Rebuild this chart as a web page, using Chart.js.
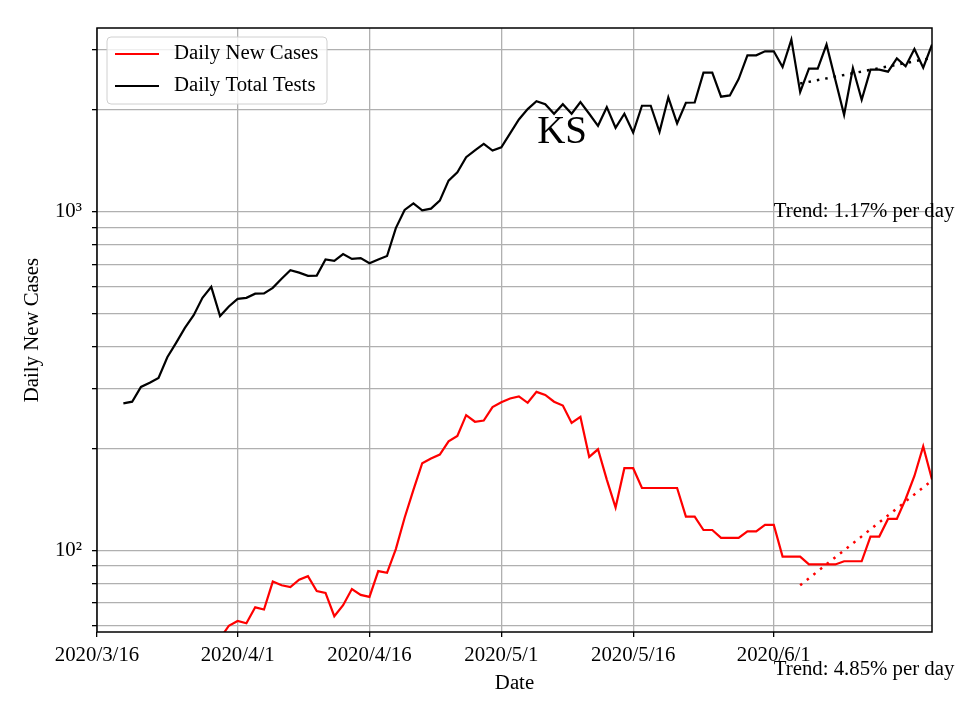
<!DOCTYPE html>
<html>
<head>
<meta charset="utf-8">
<script src="https://cdn.jsdelivr.net/npm/chart.js@4.4.1/dist/chart.umd.min.js"></script>
<style>
  html, body { margin: 0; background: #fff; }
  #wrap { width: 960px; height: 720px; }
</style>
</head>
<body>
<div id="wrap"><canvas id="chart" width="960" height="720"></canvas></div>
<script>
const FONT = '"Liberation Serif", "Times New Roman", serif';

// x is days since 2020/3/16
const X_TICKS = [0, 16, 31, 46, 61, 77];
const X_TICK_LABELS = ['2020/3/16', '2020/4/1', '2020/4/16', '2020/5/1', '2020/5/16', '2020/6/1'];
const Y_TICKS = [60, 70, 80, 90, 100, 200, 300, 400, 500, 600, 700, 800, 900, 1000, 2000, 3000];
const Y_TICK_LABELS = { 100: '10²', 1000: '10³' };

const TESTS_START = 3;
const TESTS = [
  272, 275, 304, 313, 323, 372, 410, 454, 495, 557,
  600, 492, 525, 553, 557, 573, 574, 596, 634, 672,
  661, 647, 648, 723, 716, 750, 726, 730, 705, 723,
  740, 895, 1012, 1058, 1009, 1021, 1078, 1235, 1307, 1448,
  1518, 1586, 1515, 1550, 1702, 1872, 2008, 2120, 2077, 1946,
  2077, 1946, 2106, 1946, 1793, 2035, 1769, 1946, 1713, 2055,
  2055, 1721, 2175, 1822, 2097, 2100, 2573, 2573, 2185, 2204,
  2463, 2894, 2894, 2974, 2974, 2673, 3221, 2254, 2644, 2644,
  3113, 2453, 1932, 2655, 2140, 2626, 2626, 2590, 2836, 2686,
  3021, 2661, 3113,
];

const CASES_START = 14;
const CASES = [
  55, 60, 62, 61, 68, 67, 81, 79, 78, 82,
  84, 76, 75, 64, 69, 77, 74, 73, 87, 86,
  101, 125, 151, 181, 187, 192, 210, 218, 251, 240,
  242, 265, 274, 281, 285, 273, 294, 288, 275, 268,
  238, 248, 189, 199, 162, 134, 175, 175, 153, 153,
  153, 153, 153, 126, 126, 115, 115, 109, 109, 109,
  114, 114, 119, 119, 96, 96, 96, 91, 91, 91,
  91, 93, 93, 93, 110, 110, 124, 124, 142, 166,
  203, 162,
];

// exponential fits over the last 15 days
const TREND_DAYS = [80, 95];
const TESTS_TREND = [2390, 2845];
const CASES_TREND = [79, 161];
const TREND_LABELS = [
  { text: 'Trend: 1.17% per day', day: 77, value: 1000 },
  { text: 'Trend: 4.85% per day', day: 77, value: 44.5 },
];

const TITLE = 'KS';

const toPoints = (start, vals) => vals.map((v, i) => ({ x: start + i, y: v }));
const trendPoints = vals => vals.map((v, i) => ({ x: TREND_DAYS[i], y: v }));

const decor = {
  id: 'decor',
  afterDatasetsDraw(chart) {
    const { ctx, chartArea: a, scales: { x, y } } = chart;
    ctx.save();

    // frame
    ctx.strokeStyle = '#000';
    ctx.lineWidth = 1.5;
    ctx.strokeRect(a.left, a.top, a.right - a.left, a.bottom - a.top);

    ctx.fillStyle = '#000';

    // title inside plot
    ctx.font = `39px ${FONT}`;
    ctx.textAlign = 'center';
    ctx.textBaseline = 'alphabetic';
    ctx.fillText(TITLE, a.left + (a.right - a.left) * 0.557, a.top + (a.bottom - a.top) * 0.19);

    // trend notes
    ctx.font = `20.8px ${FONT}`;
    ctx.textAlign = 'left';
    ctx.textBaseline = 'middle';
    for (const t of TREND_LABELS) {
      ctx.fillText(t.text, x.getPixelForValue(t.day), y.getPixelForValue(t.value));
    }

    // axis titles
    ctx.textAlign = 'center';
    ctx.fillText('Date', (a.left + a.right) / 2, 684);
    ctx.save();
    ctx.translate(33, (a.top + a.bottom) / 2);
    ctx.rotate(-Math.PI / 2);
    ctx.fillText('Daily New Cases', 0, 0);
    ctx.restore();

    // legend
    const bx = a.left + 10, by = a.top + 9, bw = 220, bh = 67;
    ctx.beginPath();
    ctx.roundRect(bx, by, bw, bh, 4);
    ctx.fillStyle = 'rgba(255,255,255,0.8)';
    ctx.fill();
    ctx.strokeStyle = '#d0d0d0';
    ctx.lineWidth = 1;
    ctx.stroke();
    chart.data.datasets.slice(0, 2).forEach((ds, i) => {
      const ly = by + 17 + i * 32;
      ctx.beginPath();
      ctx.moveTo(bx + 8, ly);
      ctx.lineTo(bx + 52, ly);
      ctx.strokeStyle = ds.borderColor;
      ctx.lineWidth = 2.2;
      ctx.stroke();
      ctx.fillStyle = '#000';
      ctx.textAlign = 'left';
      ctx.textBaseline = 'middle';
      ctx.fillText(ds.label, bx + 67, ly);
    });

    ctx.restore();
  },
};

new Chart(document.getElementById('chart'), {
  type: 'line',
  data: {
    datasets: [
      { label: 'Daily New Cases', data: toPoints(CASES_START, CASES), borderColor: '#ff0000', borderWidth: 2.2, pointRadius: 0 },
      { label: 'Daily Total Tests', data: toPoints(TESTS_START, TESTS), borderColor: '#000000', borderWidth: 2.2, pointRadius: 0 },
      { label: '', data: trendPoints(CASES_TREND), borderColor: '#ff0000', borderWidth: 2.5, borderDash: [2.5, 6], pointRadius: 0 },
      { label: '', data: trendPoints(TESTS_TREND), borderColor: '#000000', borderWidth: 2.5, borderDash: [2.5, 6], pointRadius: 0 },
    ],
  },
  options: {
    responsive: false,
    animation: false,
    devicePixelRatio: 1,
    layout: { padding: { top: 28, right: 28, left: 0, bottom: 0 } },
    plugins: { legend: { display: false }, tooltip: { enabled: false } },
    scales: {
      x: {
        type: 'linear',
        min: 0,
        max: 95,
        afterBuildTicks: s => { s.ticks = X_TICKS.map(v => ({ value: v })); },
        afterFit: s => { s.height = 88; },
        ticks: {
          autoSkip: false,
          maxRotation: 0,
          padding: 6,
          color: '#000',
          font: { family: FONT, size: 20.8 },
          callback: v => X_TICK_LABELS[X_TICKS.indexOf(v)] ?? '',
        },
        grid: { color: '#b0b0b0', lineWidth: 1.3, tickColor: '#000', tickLength: 5 },
        border: { display: false },
      },
      y: {
        type: 'logarithmic',
        min: 57.5,
        max: 3485,
        afterBuildTicks: s => { s.ticks = Y_TICKS.map(v => ({ value: v })); },
        afterFit: s => { s.width = 97; },
        ticks: {
          autoSkip: false,
          padding: 10,
          color: '#000',
          font: { family: FONT, size: 20.8 },
          callback: v => Y_TICK_LABELS[v] ?? '',
        },
        grid: { color: '#b0b0b0', lineWidth: 1.3, tickColor: '#000', tickLength: 5 },
        border: { display: false },
      },
    },
  },
  plugins: [decor],
});
</script>
</body>
</html>
